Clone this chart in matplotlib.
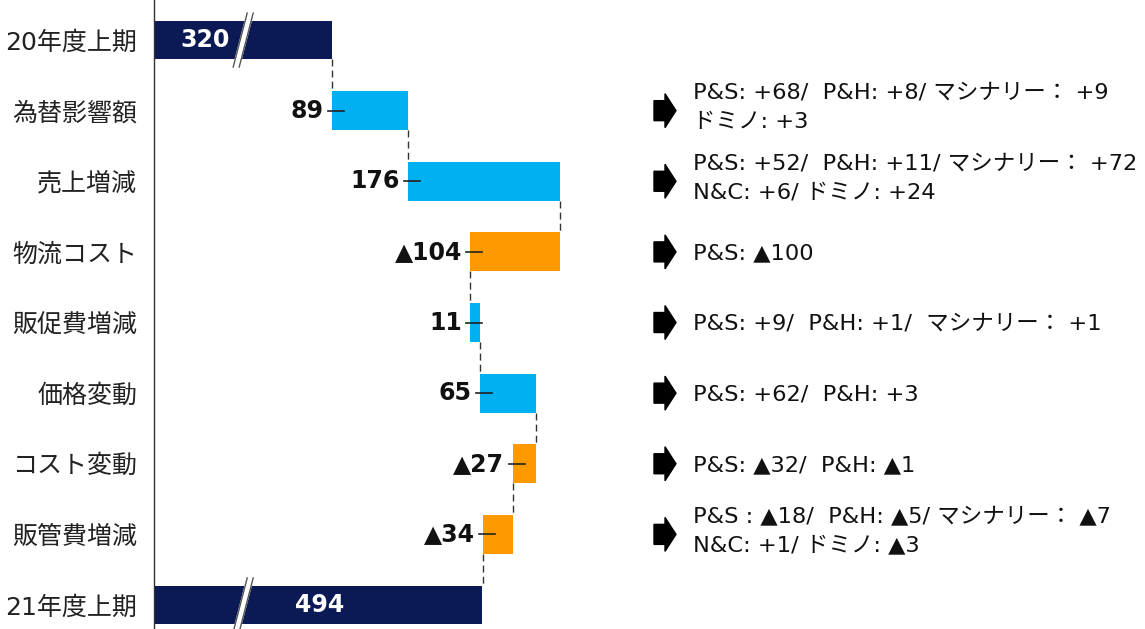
import matplotlib.pyplot as plt
import matplotlib.transforms as mtransforms
from matplotlib.patches import Polygon

plt.rcParams['font.family'] = ['DejaVu Sans', 'Noto Sans CJK JP']

# Data
categories = ['20年度上期', '為替影響額', '売上増減', '物流コスト', '販促費増減',
              '価格変動', 'コスト変動', '販管費増減', '21年度上期']
start_value = 320
changes = [89, 176, -104, 11, 65, -27, -34]
end_value = 494
notes = [
    None,
    'P&S: +68/  P&H: +8/ マシナリー： +9\nドミノ: +3',
    'P&S: +52/  P&H: +11/ マシナリー： +72\nN&C: +6/ ドミノ: +24',
    'P&S: ▲100',
    'P&S: +9/  P&H: +1/  マシナリー： +1',
    'P&S: +62/  P&H: +3',
    'P&S: ▲32/  P&H: ▲1',
    'P&S : ▲18/  P&H: ▲5/ マシナリー： ▲7\nN&C: +1/ ドミノ: ▲3',
    None,
]

navy = '#0b1a55'
cyan = '#00b0f0'
orange = '#ff9900'

W, H = 1145, 629
fig = plt.figure(figsize=(W / 100, H / 100), dpi=100)
ax = fig.add_axes([154 / W, 0, 1 - 154 / W, 1])

px_x = 1 / 0.862          # data units per pixel (x)
x0 = 114
ax.set_xlim(x0, x0 + (W - 154) * px_x)
ax.set_ylim(8.34, -0.567)
bar_h = 0.55

# Waterfall bars
lefts, widths, colors = [], [], []
running = start_value
lefts.append(x0)
widths.append(start_value - x0)
colors.append(navy)
for c in changes:
    lefts.append(min(running, running + c))
    widths.append(abs(c))
    colors.append(cyan if c >= 0 else orange)
    running += c
lefts.append(x0)
widths.append(end_value - x0)
colors.append(navy)

ys = list(range(len(categories)))
ax.barh(ys, widths, left=lefts, height=bar_h, color=colors, zorder=2)

# Connectors
ends = [start_value]
running = start_value
for c in changes:
    running += c
    ends.append(running)
for i, e in enumerate(ends):
    ax.plot([e, e], [i + bar_h / 2, i + 1 - bar_h / 2], color='#333333',
            lw=1, dashes=(5, 3), zorder=1)

# Labels for changes
for i, c in enumerate(changes, start=1):
    left = lefts[i]
    txt = str(c) if c >= 0 else '▲' + str(-c)
    ax.annotate(txt, (left, i), xytext=(-6, 0), textcoords='offset points',
                ha='right', va='center', fontsize=17, fontweight='bold',
                color='#111111')
    ax.plot([left - 4 * px_x, left + 12 * px_x], [i, i], color='#222222',
            lw=1.2, zorder=3)

# Totals inside the dark bars
ax.text(173, 0, str(start_value), ha='center', va='center', fontsize=17,
        fontweight='bold', color='white', zorder=4)
ax.text(306, 8, str(end_value), ha='center', va='center', fontsize=17,
        fontweight='bold', color='white', zorder=4)

# Axis break marks
def draw_break(y, xc):
    dx = 14 * px_x
    dy = 54 / 70.6
    gap = 6 * px_x
    ext = bar_h / 2
    xb, xt = xc - dx / 2, xc + dx / 2
    yb, yt = y + dy / 2, y - dy / 2
    fy = ext / (dy / 2)
    ax.fill([xc - dx / 2 * fy, xc + dx / 2 * fy, xc + dx / 2 * fy + gap, xc - dx / 2 * fy + gap],
            [y + ext, y - ext, y - ext, y + ext], color='white', zorder=3)
    for off in (0, gap):
        ax.plot([xb + off, xt + off], [yb, yt], color='#555555', lw=1, zorder=4)

draw_break(0, 214)
draw_break(8, 214)

# Axes styling
ax.set_yticks(ys)
ax.set_yticklabels(categories, fontsize=18, color='#222222')
ax.tick_params(axis='y', length=0, pad=12)
ax.set_xticks([])
for s in ['top', 'right', 'bottom']:
    ax.spines[s].set_visible(False)
ax.spines['left'].set_color('#333333')
ax.spines['left'].set_linewidth(1)

# Notes with arrows on the right
trans = mtransforms.blended_transform_factory(fig.transFigure, ax.transData)
ax_h = 1 / 70.6
for i, note in enumerate(notes):
    if note is None:
        continue
    xa, xm, xt = 654 / W, 665 / W, 676 / W
    bh, hh = 10 * ax_h, 17 * ax_h
    arrow = Polygon([(xa, i - bh), (xm, i - bh), (xm, i - hh), (xt, i),
                     (xm, i + hh), (xm, i + bh), (xa, i + bh)],
                    closed=True, color='black', transform=trans, clip_on=False)
    ax.add_patch(arrow)
    ty = i - 0.05 if '\n' in note else i + 0.02
    ax.text(693 / W, ty, note, transform=trans, ha='left', va='center',
            fontsize=16.2, color='#111111', linespacing=1.55, clip_on=False)

fig.savefig('out.png', dpi=100)
